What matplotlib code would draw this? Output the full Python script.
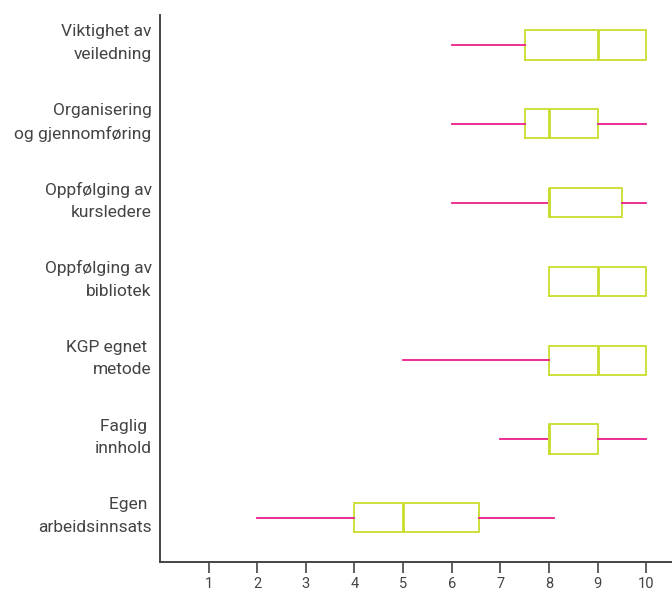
import matplotlib.pyplot as plt
import matplotlib.transforms as mtransforms

categories = ["Viktighet av\nveiledning", "Organisering\nog gjennomføring", "Oppfølging av\nkursledere",
              "Oppfølging av\nbibliotek", "KGP egnet \nmetode", "Faglig \ninnhold", "Egen \narbeidsinnsats"]
whislo = [6, 6, 6, 8, 5, 7, 2]
q1 = [7.5, 7.5, 8, 8, 8, 8, 4]
med = [9, 8, 8, 9, 9, 8, 5]
q3 = [10, 9, 9.5, 10, 10, 9, 6.55]
whishi = [10, 10, 10, 10, 10, 10, 8.1]
ticks = list(range(1, 11))

box_col = "#c9dc2c"
whisk_col = "#ec1c8c"
text_col = "#444444"

plt.rcParams['font.family'] = ['Roboto', 'DejaVu Sans']

fig = plt.figure(figsize=(6.72, 5.93), dpi=100)
ax = fig.add_axes([0.238, 0.0523, 0.76, 0.9224])

stats = []
for i in range(len(categories)):
    stats.append({"whislo": whislo[i], "q1": q1[i], "med": med[i], "q3": q3[i],
                  "whishi": whishi[i], "fliers": []})
positions = list(range(len(categories), 0, -1))

ax.bxp(stats, positions=positions, vert=False, widths=0.37, showcaps=False, showfliers=False,
       boxprops=dict(color=box_col, linewidth=1.3),
       medianprops=dict(color=box_col, linewidth=2.0),
       whiskerprops=dict(color=whisk_col, linewidth=1.3))

ax.set_xlim(0, 10.5)
ax.set_ylim(0.44, 7.38)
ax.set_xticks(ticks)
ax.set_xticklabels([str(t) for t in ticks], fontsize=10.5, color=text_col)
ax.set_yticks(positions)
ax.set_yticklabels(categories, fontsize=12.5, color=text_col, linespacing=1.6)
ax.tick_params(axis='y', length=0, pad=6)
ax.tick_params(axis='x', length=8, width=1.2, color=text_col, pad=3)
shift = mtransforms.ScaledTranslation(0, 7 / 100, fig.dpi_scale_trans)
for lbl in ax.get_yticklabels():
    lbl.set_transform(lbl.get_transform() + shift)
for s in ["top", "right"]:
    ax.spines[s].set_visible(False)
for s in ["left", "bottom"]:
    ax.spines[s].set_color(text_col)
    ax.spines[s].set_linewidth(1.4)

fig.savefig("out.png", dpi=100)
